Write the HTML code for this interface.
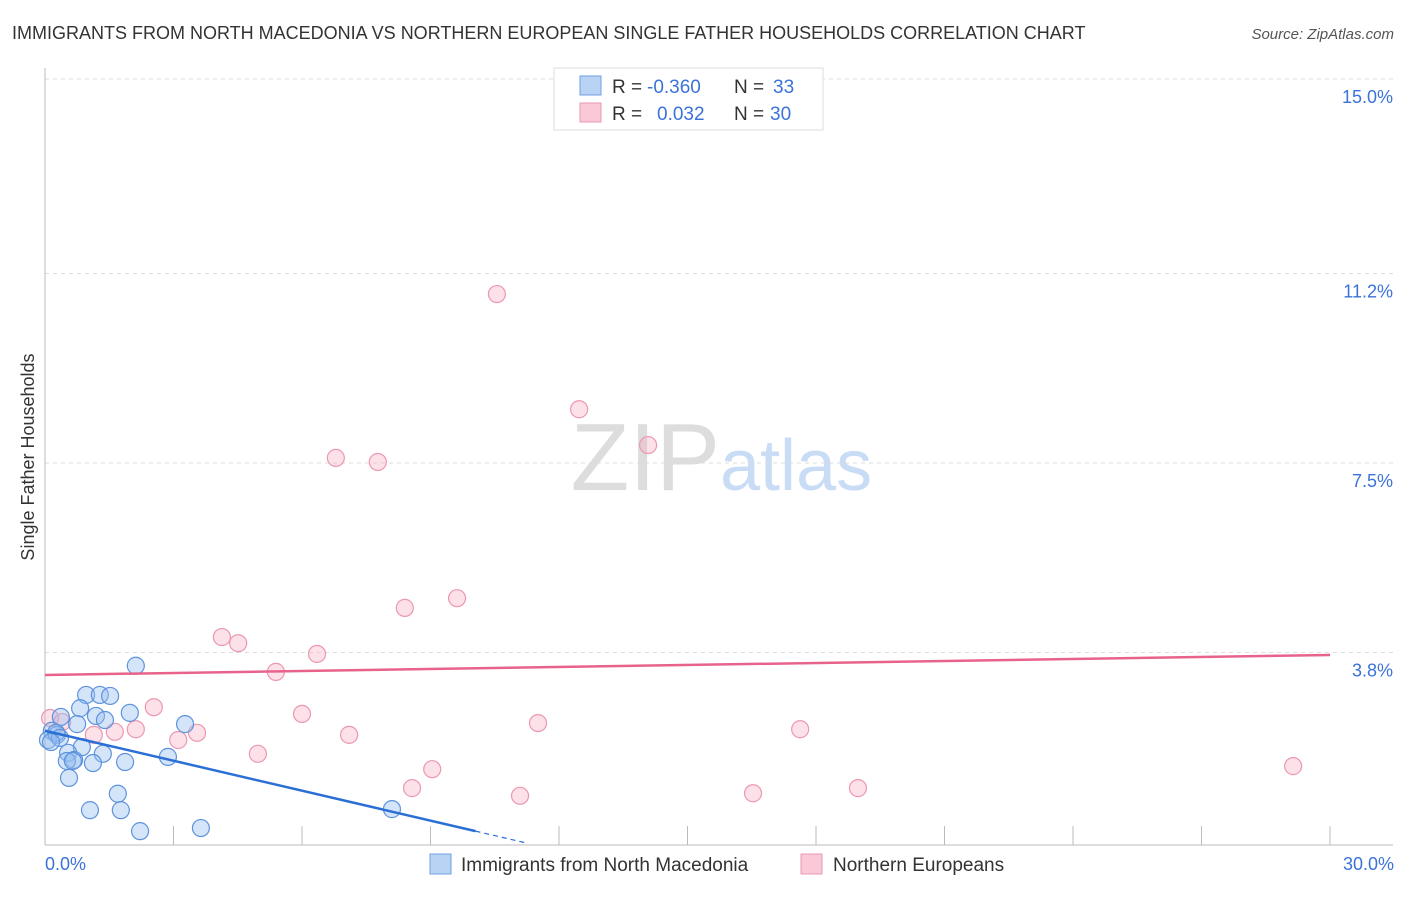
<!DOCTYPE html>
<html><head><meta charset="utf-8"><style>
body{margin:0;background:#fff;font-family:"Liberation Sans",sans-serif;}
svg text{font-family:"Liberation Sans",sans-serif;}
</style></head><body>
<svg id="chart" width="1406" height="892" xmlns="http://www.w3.org/2000/svg">
<text x="12" y="39" font-size="18" fill="#333">IMMIGRANTS FROM NORTH MACEDONIA VS NORTHERN EUROPEAN SINGLE FATHER HOUSEHOLDS CORRELATION CHART</text>
<text x="1394" y="39" font-size="15" fill="#555" font-style="italic" text-anchor="end">Source: ZipAtlas.com</text>
<text x="720" y="490" font-size="96" fill="#ddd" text-anchor="end" font-family="Liberation Serif">ZIP</text>
<text x="720" y="490" font-size="72" fill="#c9dcf5">atlas</text>
<g id="grid"></g>
<g id="axes"></g>
<g id="marks"></g>
<text transform="translate(34,457) rotate(-90)" font-size="18" fill="#333" text-anchor="middle">Single Father Households</text>
<text x="45" y="870" font-size="18" fill="#3b73d9">0.0%</text>
<text x="1394" y="870" font-size="18" fill="#3b73d9" text-anchor="end">30.0%</text>
<g>
<rect x="554" y="68" width="269" height="62" fill="#fff" stroke="#ddd"/>
<rect x="580" y="76" width="21" height="19" fill="#b9d3f5" stroke="#6f9fe0"/>
<rect x="580" y="103" width="21" height="19" fill="#f9c9d7" stroke="#ec97b0"/>
<text x="612" y="93" font-size="19" fill="#333">R = </text><text x="647" y="93" font-size="19" fill="#3b73d9">-0.360</text>
<text x="734" y="93" font-size="19" fill="#333">N = </text><text x="773" y="93" font-size="19" fill="#3b73d9">33</text>
<text x="612" y="120" font-size="19" fill="#333">R = </text><text x="657" y="120" font-size="19" fill="#3b73d9">0.032</text>
<text x="734" y="120" font-size="19" fill="#333">N = </text><text x="770" y="120" font-size="19" fill="#3b73d9">30</text>
</g>
<g>
<rect x="430" y="854" width="21" height="20" fill="#b9d3f5" stroke="#6f9fe0"/>
<text x="461" y="871" font-size="19" fill="#333">Immigrants from North Macedonia</text>
<rect x="801" y="854" width="21" height="20" fill="#f9c9d7" stroke="#ec97b0"/>
<text x="833" y="871" font-size="19" fill="#333">Northern Europeans</text>
</g>
</svg>
<script>
const yTicks=[15.0,11.2,7.5,3.8];
const yTickLabels=["15.0%","11.2%","7.5%","3.8%"];
const xTickVals=[3,6,9,12,15,18,21,24,27,30];
const blueX=[2.12,0.96,1.28,1.52,0.82,1.98,1.19,0.37,3.27,0.75,1.40,0.16,0.28,0.07,0.86,0.54,1.35,0.68,0.51,1.12,1.87,2.87,0.56,1.70,1.05,1.77,2.22,3.64,8.10,0.26,0.35,0.14,0.65];
const blueY=[3.54,2.97,2.97,2.95,2.71,2.62,2.56,2.54,2.40,2.40,2.48,2.27,2.19,2.09,1.95,1.84,1.82,1.70,1.68,1.64,1.66,1.76,1.35,1.04,0.72,0.72,0.31,0.37,0.74,2.23,2.13,2.05,1.68];
const pinkX=[10.55,12.47,14.08,6.79,7.77,8.40,9.62,4.13,4.51,6.35,5.39,2.54,6.00,11.51,17.63,7.10,3.55,3.11,4.97,9.04,29.14,8.57,11.09,16.53,18.98,2.12,1.63,1.14,0.12,0.40];
const pinkY=[10.80,8.55,7.85,7.60,7.52,4.67,4.86,4.10,3.98,3.77,3.42,2.73,2.60,2.42,2.30,2.19,2.23,2.09,1.82,1.52,1.58,1.15,1.00,1.05,1.15,2.30,2.25,2.19,2.52,2.44];
const blueTrend=[0,2.27,10.05,0.31,11.2];
const pinkTrend=[0,3.36,30,3.75];
const NS="http://www.w3.org/2000/svg";
const X=v=>45+v/30*1285;
const Y=v=>847-v*51.2;
function mk(tag,attrs,parent){const e=document.createElementNS(NS,tag);for(const k in attrs)e.setAttribute(k,attrs[k]);parent.appendChild(e);return e;}
const grid=document.getElementById('grid'),axes=document.getElementById('axes'),marks=document.getElementById('marks');
yTicks.forEach((t,i)=>{
 const l=mk('line',{x1:45,x2:1393,y1:Y(t),y2:Y(t),stroke:'#ddd','stroke-dasharray':'4,4'},grid);
 
 
 const tx=mk('text',{x:1393,y:Y(t)+24,'font-size':18,fill:'#3b73d9','text-anchor':'end'},axes);
 tx.textContent=yTickLabels[i];
 
 
});
const ax=mk('line',{x1:45,x2:45,y1:68,y2:845,stroke:'#bbb'},axes);


const bx=mk('line',{x1:45,x2:1393,y1:845,y2:845,stroke:'#bbb'},axes);


xTickVals.forEach(v=>{
 const t=mk('line',{x1:X(v),x2:X(v),y1:826,y2:845,stroke:'#bbb'},axes);
 
 
});
pinkX.forEach((x,i)=>{
 const c=mk('circle',{cx:X(x),cy:Y(pinkY[i]),r:8.5,fill:'rgba(246,170,193,0.35)',stroke:'#ec97b0','stroke-width':1.2},marks);
 
 
});
blueX.forEach((x,i)=>{
 const c=mk('circle',{cx:X(x),cy:Y(blueY[i]),r:8.5,fill:'rgba(150,190,240,0.4)',stroke:'#5d93dd','stroke-width':1.2},marks);
 
 
});
const pl=mk('line',{x1:X(pinkTrend[0]),y1:Y(pinkTrend[1]),x2:X(pinkTrend[2]),y2:Y(pinkTrend[3]),stroke:'#e8638c','stroke-width':2.5},marks);


const bs=(blueTrend[3]-blueTrend[1])/(blueTrend[2]-blueTrend[0]);
const bl=mk('line',{x1:X(blueTrend[0]),y1:Y(blueTrend[1]),x2:X(blueTrend[2]),y2:Y(blueTrend[3]),stroke:'#2a6fd6','stroke-width':2.5},marks);


const bd=mk('line',{x1:X(blueTrend[2]),y1:Y(blueTrend[3]),x2:X(blueTrend[4]),y2:Y(blueTrend[1]+bs*blueTrend[4]),stroke:'#2a6fd6','stroke-width':1.2,'stroke-dasharray':'5,4'},marks);


</script>
</body></html>
